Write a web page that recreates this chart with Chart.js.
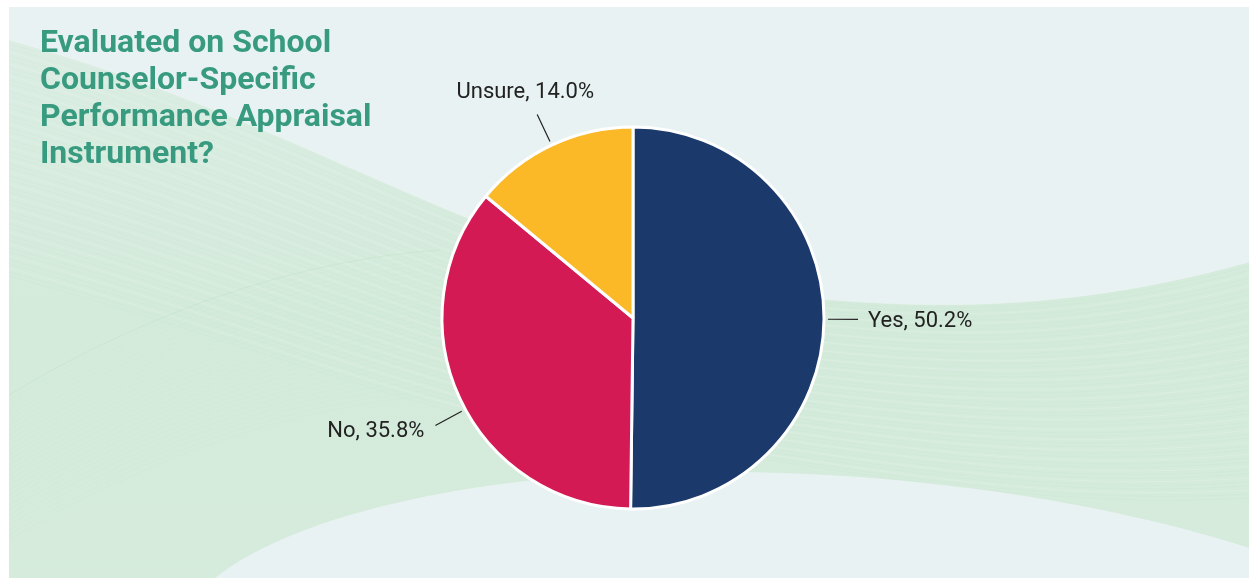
<!DOCTYPE html>
<html>
<head>
<meta charset="utf-8">
<script src="https://cdn.jsdelivr.net/npm/chart.js@4"></script>
<style>
  html, body { margin: 0; padding: 0; background: #ffffff; }
  #wrap { position: relative; width: 1252px; height: 578px; }
  #title {
    position: absolute; left: 40px; top: 23px;
    font-family: Roboto, "Noto Sans", sans-serif; font-weight: 700;
    font-size: 32px; line-height: 37px; color: #389b80;
    pointer-events: none;
  }
</style>
</head>
<body>
<div id="wrap">
  <canvas id="pie" width="1252" height="578"></canvas>
  <div id="title">Evaluated on School<br>Counselor-Specific<br>Performance Appraisal<br>Instrument?</div>
</div>
<script>
// Survey answers
const categories = ["Yes", "No", "Unsure"];
const shares = [50.2, 35.8, 14.0];
const sliceColors = ["#1b3a6b", "#d41a55", "#fbb827"];

// soft green swoosh behind the pie
const backdrop = {
  id: "backdrop",
  beforeDraw(chart) {
    const c = chart.ctx;
    c.save();
    c.fillStyle = "#ffffff";
    c.fillRect(0, 0, 1252, 578);
    c.fillStyle = "#e8f2f2";
    c.fillRect(9, 7, 1240, 571);

    c.beginPath();
    c.rect(9, 7, 1240, 571);
    c.clip();

    // main green band
    c.beginPath();
    c.moveTo(9, 40);
    c.bezierCurveTo(300, 120, 480, 255, 700, 285);
    c.bezierCurveTo(880, 310, 1040, 320, 1250, 262);
    c.lineTo(1250, 548);
    c.bezierCurveTo(1100, 500, 900, 470, 700, 472);
    c.bezierCurveTo(500, 470, 300, 510, 215, 578);
    c.lineTo(9, 578);
    c.closePath();
    const g = c.createLinearGradient(0, 40, 0, 578);
    g.addColorStop(0, "rgba(205,232,210,0.45)");
    g.addColorStop(0.5, "rgba(195,228,200,0.55)");
    g.addColorStop(1, "rgba(198,229,202,0.55)");
    c.fillStyle = g;
    c.fill();

    // fine streaks following the band
    c.lineWidth = 1;
    for (let k = 0; k < 60; k++) {
      const dy = k * 4;
      c.strokeStyle = k % 3 === 0 ? "rgba(255,255,255,0.16)" : "rgba(160,210,170,0.07)";
      c.beginPath();
      c.moveTo(9, 40 + dy);
      c.bezierCurveTo(300, 120 + dy, 480, 255 + dy * 0.8, 700, 285 + dy * 0.7);
      c.bezierCurveTo(880, 310 + dy * 0.7, 1040, 320 + dy * 0.8, 1250, 262 + dy);
      c.stroke();
    }
    // lighter sweep rising from the lower left
    for (let k = 0; k < 30; k++) {
      const dy = k * 5;
      c.strokeStyle = "rgba(170,215,180," + (k === 0 ? 0.25 : 0.06) + ")";
      c.beginPath();
      c.moveTo(9, 395 + dy);
      c.bezierCurveTo(150, 310 + dy, 300, 260 + dy, 440, 250 + dy);
      c.stroke();
    }
    c.restore();
  }
};

// leader lines and "label, value%" text outside each slice
const outsideLabels = {
  id: "outsideLabels",
  afterDatasetsDraw(chart) {
    const c = chart.ctx;
    const arcs = chart.getDatasetMeta(0).data;
    c.save();
    c.font = "22px Roboto, 'Noto Sans', sans-serif";
    c.fillStyle = "#222222";
    c.strokeStyle = "#222222";
    c.lineWidth = 1.2;
    arcs.forEach((arc, i) => {
      const { x, y, startAngle, endAngle, outerRadius } = arc.getProps(["x", "y", "startAngle", "endAngle", "outerRadius"], true);
      let mid = (startAngle + endAngle) / 2;
      // left-hand leaders sit a little lower on the rim
      if (Math.cos(mid) < -0.5) mid -= 0.065;
      const cos = Math.cos(mid), sin = Math.sin(mid);
      const x1 = x + cos * (outerRadius + 4), y1 = y + sin * (outerRadius + 4);
      const x2 = x + cos * (outerRadius + 34), y2 = y + sin * (outerRadius + 34);
      c.beginPath();
      c.moveTo(x1, y1);
      c.lineTo(x2, y2);
      c.stroke();
      const text = categories[i] + ", " + shares[i].toFixed(1) + "%";
      c.textBaseline = "middle";
      if (cos > 0.5) {
        c.textAlign = "left";
        c.fillText(text, x2 + 10, y2 + 2);
      } else if (cos < -0.5) {
        c.textAlign = "right";
        c.fillText(text, x2 - 11, y2 + 6);
      } else {
        c.textAlign = "center";
        c.fillText(text, x2 + 28 * cos, y2 + (sin < 0 ? -22 : 22));
      }
    });
    c.restore();
  }
};

new Chart(document.getElementById("pie"), {
  type: "pie",
  data: {
    labels: categories,
    datasets: [{
      data: shares,
      backgroundColor: sliceColors,
      borderColor: "#ffffff",
      borderWidth: 3
    }]
  },
  options: {
    responsive: false,
    animation: false,
    radius: 191,
    layout: { padding: { left: 100, right: 86, top: 80, bottom: 22 } },
    plugins: {
      legend: { display: false },
      tooltip: { enabled: false }
    }
  },
  plugins: [backdrop, outsideLabels]
});
</script>
</body>
</html>
